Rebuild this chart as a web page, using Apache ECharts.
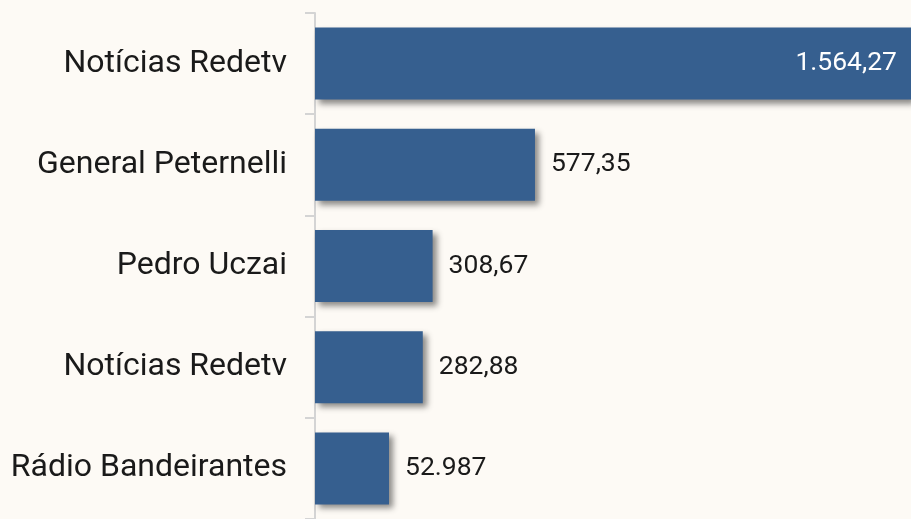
<!DOCTYPE html>
<html>
<head>
<meta charset="utf-8">
<script src="https://cdn.jsdelivr.net/npm/echarts@6/dist/echarts.min.js"></script>
<style>
  html, body { margin: 0; padding: 0; background: #fdfaf5; }
  #main { width: 911px; height: 519px; }
</style>
</head>
<body>
<div id="main"></div>
<script>
// categorias e valores (de cima para baixo)
const categories = ['Notícias Redetv', 'General Peternelli', 'Pedro Uczai', 'Notícias Redetv', 'Rádio Bandeirantes']
const values = [1564.27, 577.35, 308.67, 282.88, 52.987]
const valueLabels = ['1.564,27', '577,35', '308,67', '282,88', '52.987']

let myChart = echarts.init(document.getElementById('main'))
myChart.setOption({
  backgroundColor: '#fdfaf5',
  animation: false,
  grid: {
    left: 315,
    right: 0,
    top: 13,
    height: 515,
    containLabel: false
  },
  xAxis: {
    type: 'value',
    show: false,
    min: 0,
    max: 'dataMax'
  },
  yAxis: {
    type: 'category',
    inverse: true,
    data: categories,
    axisLine: {
      show: true,
      lineStyle: { color: '#d4d4d4', width: 2 }
    },
    axisTick: {
      show: true,
      length: 10,
      lineStyle: { color: '#d4d4d4', width: 2 }
    },
    axisLabel: {
      margin: 28,
      color: '#1a1a1a',
      fontSize: 32,
      fontFamily: 'Roboto',
      padding: [6, 0, 0, 0]
    }
  },
  series: [
    {
      type: 'bar',
      barWidth: 72,
      barMinHeight: 74,
      data: values.map((v, i) => {
        let item = { value: v }
        if (i === 0) {
          item.label = { position: 'insideRight', color: '#ffffff', distance: 14 }
        }
        return item
      }),
      itemStyle: {
        color: '#365f8f',
        shadowColor: 'rgba(0, 0, 0, 0.45)',
        shadowBlur: 6,
        shadowOffsetX: 4,
        shadowOffsetY: 4
      },
      label: {
        show: true,
        position: 'right',
        distance: 16,
        color: '#1a1a1a',
        fontSize: 26.5,
        fontFamily: 'Roboto',
        padding: [6, 0, 0, 0],
        formatter: (p) => valueLabels[p.dataIndex]
      }
    }
  ]
})
</script>
</body>
</html>
